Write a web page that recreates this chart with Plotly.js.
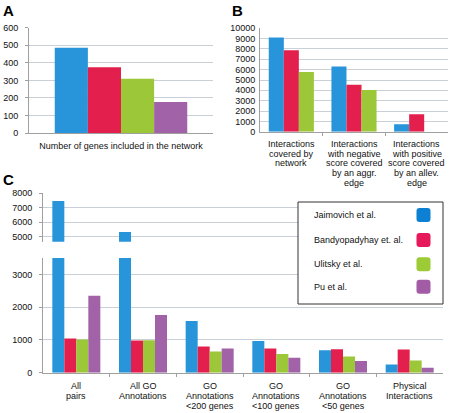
<!DOCTYPE html>
<html><head><meta charset="utf-8">
<script src="https://cdn.plot.ly/plotly-3.0.1.min.js"></script>
<style>html,body{margin:0;padding:0;background:#fff}#chart{width:451px;height:413px}</style>
</head><body><div id="chart"></div>
<script>
// ---- data ----
const seriesNames = ['Jaimovich et al.', 'Bandyopadyhay et. al.', 'Ulitsky et al.', 'Pu et al.'];
const seriesColors = ['#2894da', '#e3204d', '#9cc738', '#a162a8'];
const swatchColors = ['#0c80d2', '#e6195a', '#9ccb35', '#a25ca6'];

const aCategories = ['Number of genes included in the network'];
const aValues = [[486], [374], [309], [176]];

const bCategories = ['Interactions\ncovered by\nnetwork',
  'Interactions\nwith negative\nscore covered\nby an aggr.\nedge',
  'Interactions\nwith positive\nscore covered\nby an allev.\nedge'];
const bValues = [[9100, 6300, 720], [7880, 4550, 1680], [5770, 4030, 0]];

const cCategories = ['All\npairs', 'All GO\nAnnotations', 'GO\nAnnotations\n<200 genes',
  'GO\nAnnotations\n<100 genes', 'GO\nAnnotations\n<50 genes', 'Physical\nInteractions'];
const cValues = [
  [7470, 5330, 1576, 970, 688, 254],
  [1042, 982, 800, 740, 718, 709],
  [1012, 990, 648, 567, 497, 376],
  [2345, 1757, 740, 455, 355, 152]
];

// ---- helpers ----
const W = 451, H = 413;
const px = x => x / W, py = y => 1 - y / H;
const FONT = 'Liberation Sans, Arial, sans-serif';
const esc = s => s.replace(/&/g, '&amp;').replace(/</g, '&lt;').replace(/>/g, '&gt;');

const traces = [];
aValues.forEach((v, i) => traces.push({type: 'bar', x: aCategories, y: v, xaxis: 'x', yaxis: 'y',
  marker: {color: seriesColors[i]}, name: seriesNames[i], showlegend: false, hoverinfo: 'skip'}));
bValues.forEach((v, i) => traces.push({type: 'bar', x: bCategories.map((c, k) => k), y: v, xaxis: 'x2', yaxis: 'y2',
  marker: {color: seriesColors[i]}, name: seriesNames[i], showlegend: false, hoverinfo: 'skip'}));
cValues.forEach((v, i) => {
  traces.push({type: 'bar', x: cCategories.map((c, k) => k), y: v, xaxis: 'x3', yaxis: 'y3',
    marker: {color: seriesColors[i]}, name: seriesNames[i], showlegend: false, hoverinfo: 'skip'});
  traces.push({type: 'bar', x: cCategories.map((c, k) => k), y: v, xaxis: 'x4', yaxis: 'y4',
    marker: {color: seriesColors[i]}, name: seriesNames[i], showlegend: false, hoverinfo: 'skip'});
});

const gridC = '#c9d0d8', lineC = '#a0a0a0', tickFont = {family: FONT, size: 9, color: '#111'};
const yBase = {showgrid: true, gridcolor: gridC, gridwidth: 1, showline: true, linecolor: lineC, linewidth: 1,
  zeroline: false, tickfont: tickFont, ticks: 'outside', ticklen: 3, tickcolor: lineC, fixedrange: true, tickformat: 'd'};
const xBase = {showgrid: false, showline: true, linecolor: lineC, linewidth: 1, zeroline: false,
  tickfont: tickFont, fixedrange: true};

const annotations = [];
const panelLabel = (t, x, y) => annotations.push({text: '<b>' + t + '</b>', x: px(x), y: py(y), xref: 'paper', yref: 'paper',
  showarrow: false, font: {family: FONT, size: 15, color: '#000'}, xanchor: 'center', yanchor: 'middle'});
panelLabel('A', 8, 10); panelLabel('B', 237, 10); panelLabel('C', 8, 179);

function catLabels(cats, xref, y0, step) {
  cats.forEach((c, k) => c.split('\n').forEach((line, j) => annotations.push({
    text: esc(line), x: k, xref: xref, y: py(y0 + j * step), yref: 'paper', showarrow: false,
    xanchor: 'center', yanchor: 'middle', font: tickFont})));
}
catLabels(bCategories, 'x2', 144, 9.7);
catLabels(cCategories, 'x3', 386, 9.8);

// legend (text left, swatch right)
const shapes = [{type: 'rect', xref: 'paper', yref: 'paper', x0: px(298), x1: px(443), y0: py(304), y1: py(202),
  fillcolor: '#fff', line: {color: '#333', width: 1}, layer: 'above'}];
const legY = [215, 240, 264.3, 286.7];
seriesNames.forEach((n, i) => {
  annotations.push({text: esc(n), x: px(312), y: py(legY[i]), xref: 'paper', yref: 'paper', showarrow: false,
    xanchor: 'left', yanchor: 'middle', font: {family: FONT, size: 9, color: '#111'}});
  const cx = 423.5, cy = legY[i], h = 7, r = 3;
  const X = v => px(v).toFixed(5), Y = v => py(v).toFixed(5);
  const path = `M${X(cx - h + r)},${Y(cy - h)} L${X(cx + h - r)},${Y(cy - h)} Q${X(cx + h)},${Y(cy - h)} ${X(cx + h)},${Y(cy - h + r)} ` +
    `L${X(cx + h)},${Y(cy + h - r)} Q${X(cx + h)},${Y(cy + h)} ${X(cx + h - r)},${Y(cy + h)} L${X(cx - h + r)},${Y(cy + h)} ` +
    `Q${X(cx - h)},${Y(cy + h)} ${X(cx - h)},${Y(cy + h - r)} L${X(cx - h)},${Y(cy - h + r)} Q${X(cx - h)},${Y(cy - h)} ${X(cx - h + r)},${Y(cy - h)} Z`;
  shapes.push({type: 'path', path: path, xref: 'paper', yref: 'paper', fillcolor: swatchColors[i], line: {width: 0}, layer: 'above'});
});

const layout = {
  width: W, height: H, margin: {l: 0, r: 0, t: 0, b: 0}, paper_bgcolor: '#fff', plot_bgcolor: '#fff',
  showlegend: false, barmode: 'group', bargap: 0.28, bargroupgap: 0, font: {family: FONT},
  xaxis: Object.assign({}, xBase, {domain: [px(29), px(213)], anchor: 'y', ticks: '', ticklabelstandoff: 4}),
  yaxis: Object.assign({}, yBase, {domain: [py(133), py(27.7)], range: [0, 600], dtick: 100, anchor: 'x', ticklabelstandoff: 5}),
  xaxis2: Object.assign({}, xBase, {domain: [px(260), px(448)], anchor: 'y2', type: 'linear', range: [-0.5, 2.5],
    showticklabels: false, tickvals: [0.5, 1.5], ticks: 'outside', ticklen: 3, tickcolor: lineC}),
  yaxis2: Object.assign({}, yBase, {domain: [py(131.7), py(28.3)], range: [0, 10000], dtick: 1000, anchor: 'x2', ticks: '', ticklabelstandoff: 2}),
  xaxis3: Object.assign({}, xBase, {domain: [px(43), px(443)], anchor: 'y3', type: 'linear', range: [-0.5, 5.5],
    showticklabels: false, tickvals: [0.5, 1.5, 2.5, 3.5, 4.5], ticks: 'outside', ticklen: 3, tickcolor: lineC}),
  yaxis3: Object.assign({}, yBase, {domain: [py(372.7), py(258)], range: [0, 3500], tickvals: [0, 1000, 2000, 3000], anchor: 'x3', ticklabelstandoff: 5}),
  xaxis4: Object.assign({}, xBase, {domain: [px(43), px(443)], anchor: 'y4', type: 'linear', range: [-0.5, 5.5],
    showline: false, showticklabels: false, ticks: ''}),
  yaxis4: Object.assign({}, yBase, {domain: [py(241.7), py(193.3)], range: [4650, 8000], tickvals: [5000, 6000, 7000, 8000], anchor: 'x4', ticklabelstandoff: 5}),
  annotations: annotations, shapes: shapes
};
Plotly.newPlot('chart', traces, layout, {staticPlot: true, displayModeBar: false});
</script></body></html>
